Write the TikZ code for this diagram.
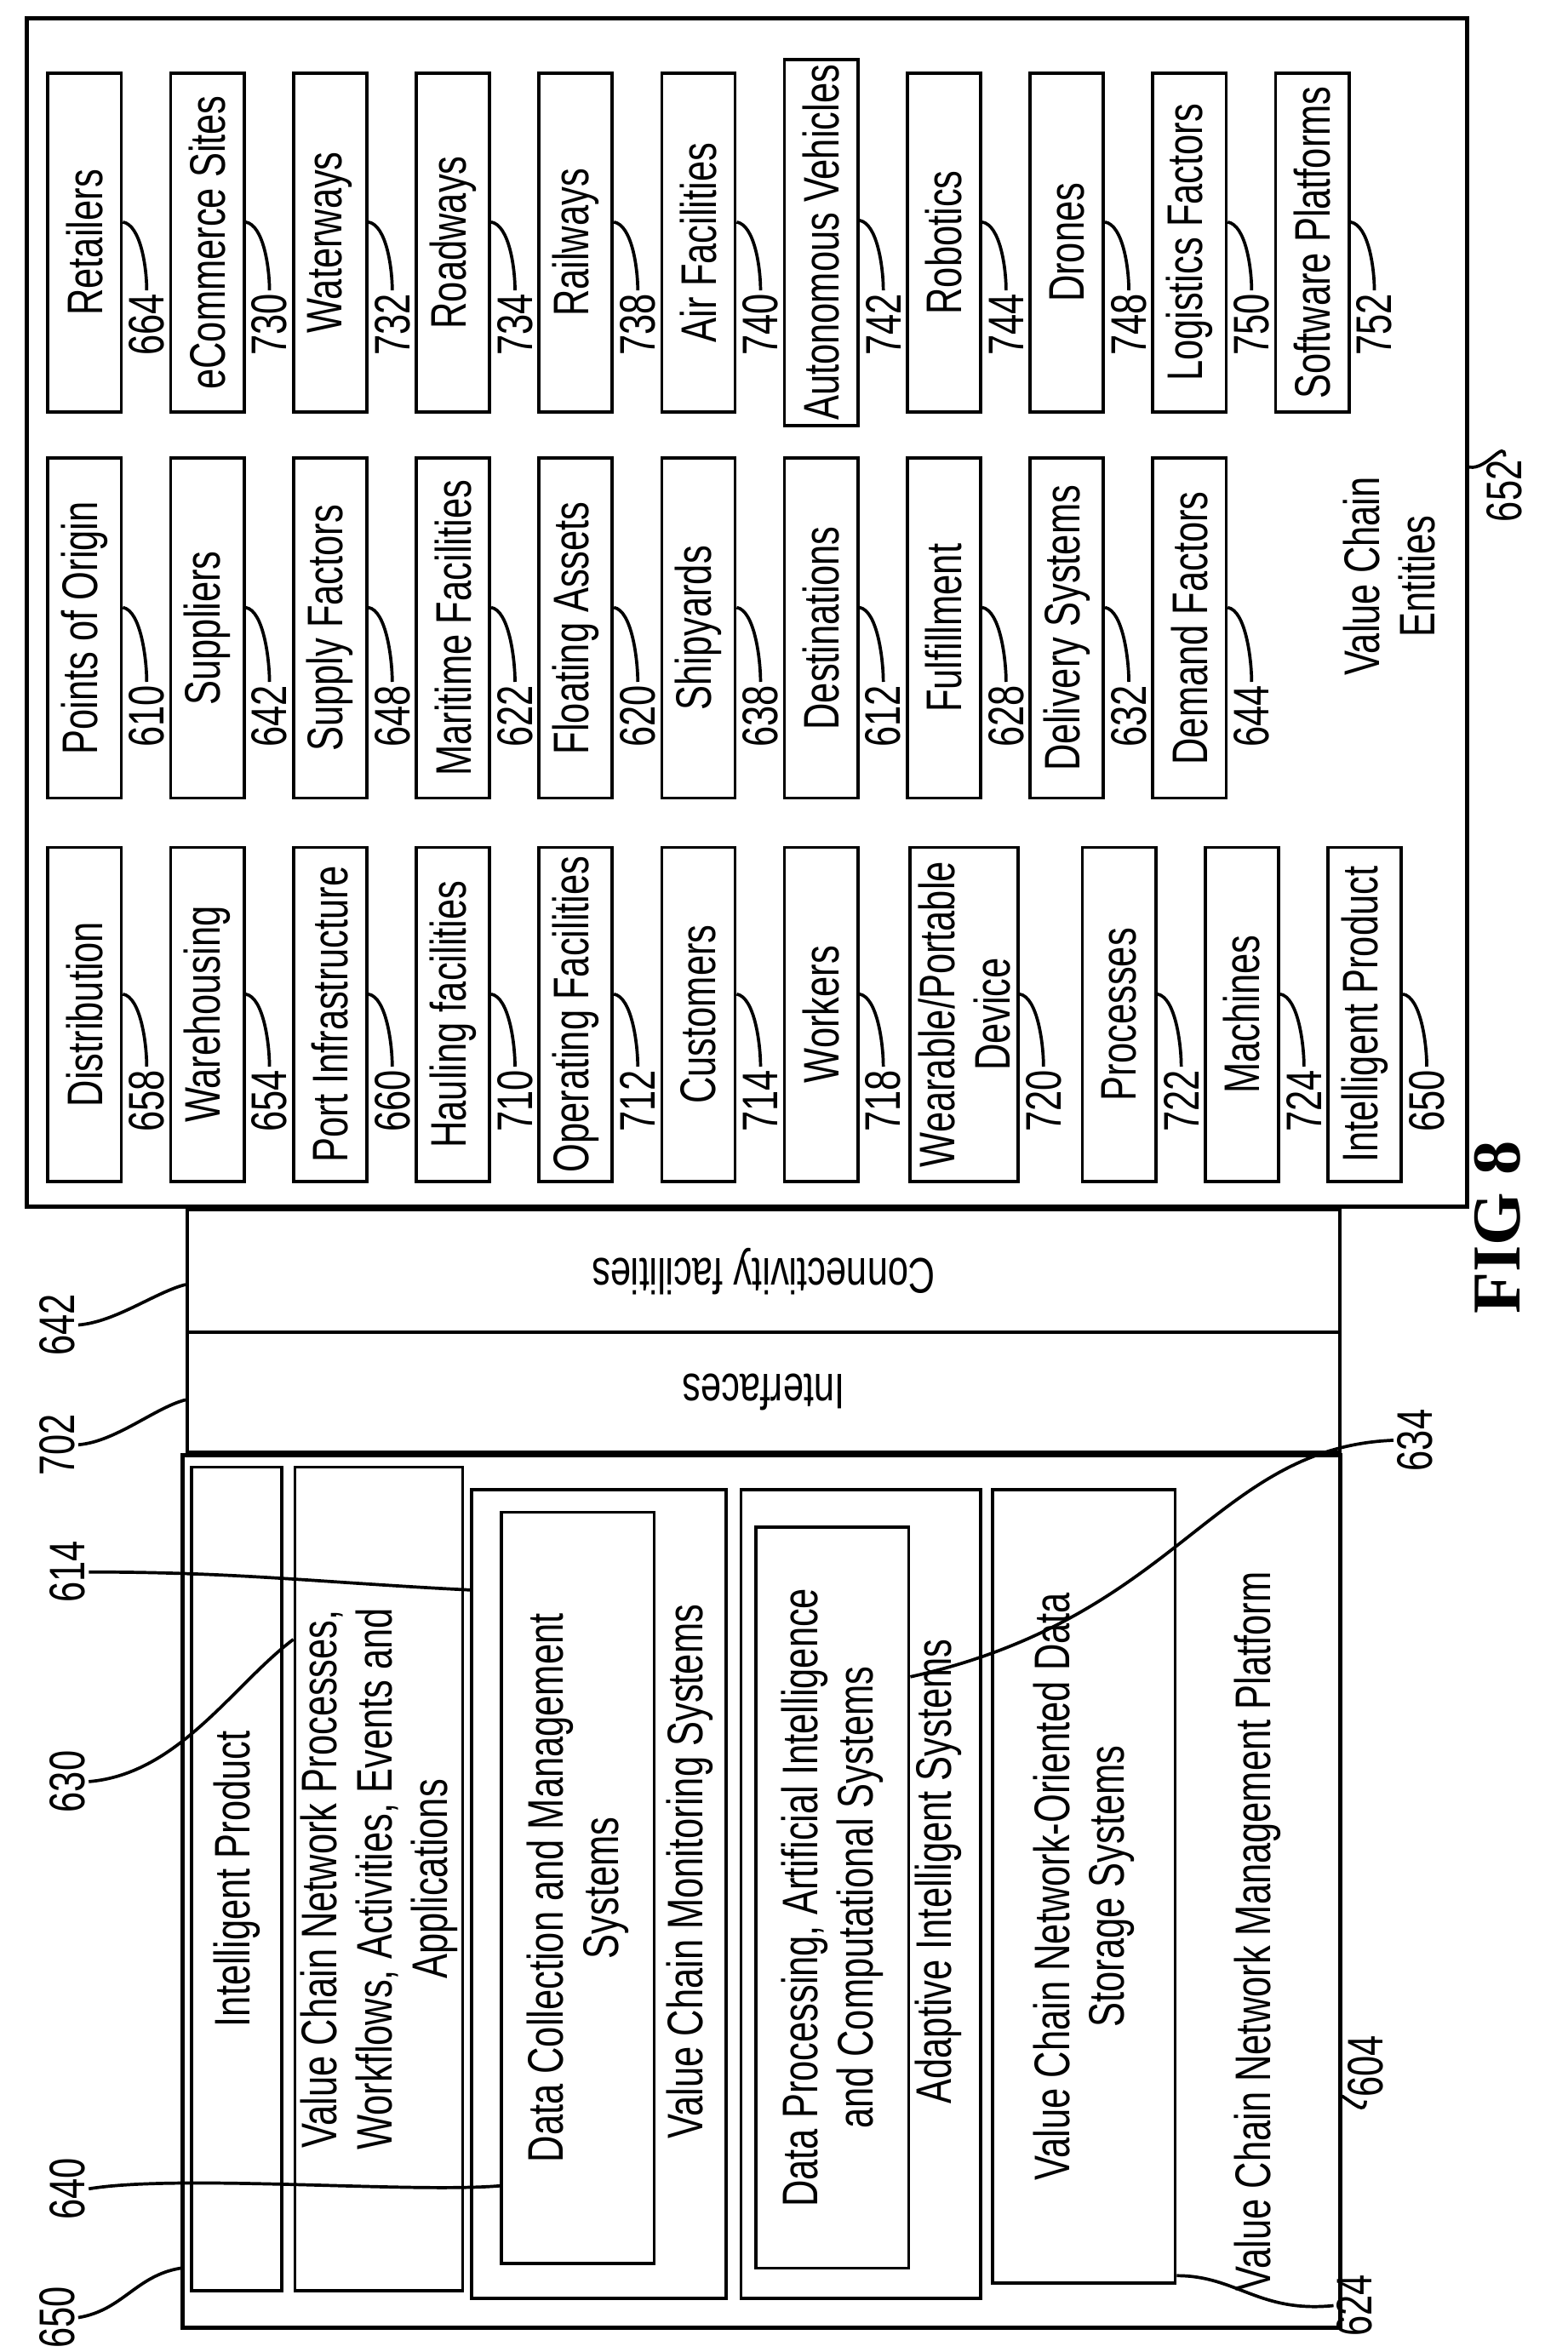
\documentclass[tikz,border=0pt]{standalone}
\usepackage{fontspec}
\setmainfont{Liberation Sans}[FakeStretch=0.74]
\newfontfamily\figfont{Liberation Serif}
\usetikzlibrary{calc}
\begin{document}
\begin{tikzpicture}[x=0.1mm,y=-0.1mm,
  box/.style={draw,line width=0.6pt,rotate=90,inner sep=1pt,align=center,
    font=\fontsize{9.5}{10.5}\selectfont},
  num/.style={rotate=90,inner sep=0.5pt,font=\fontsize{9.5}{10}\selectfont},
  txt/.style={rotate=90,align=center,font=\fontsize{9.5}{10.5}\selectfont},
  lead/.style={line width=0.6pt}]
\useasboundingbox (0,0) rectangle (1047,1571);

% value chain entities
\node[draw,line width=0.8pt,minimum width=96.2mm,minimum height=79.4mm] (ent) at (499,409) {};
\foreach \name/\lab [count=\i from 0] in {Retailers/664,eCommerce Sites/730,Waterways/732,Roadways/734,
    Railways/738,Air Facilities/740,Autonomous Vehicles/742,Robotics/744,Drones/748,
    Logistics Factors/750,Software Platforms/752}{
  \node[box,minimum width=22.6mm,minimum height=4.9mm] (t\i) at (56.5+82*\i,162) {\name};
  \node[num] (tl\i) at (98+82*\i,217) {\lab};
  \draw[lead] ($(t\i.south east)!0.44!(t\i.south west)$) .. controls +(12,2) and +(0,-15) .. (tl\i.east);
}
\foreach \name/\lab [count=\i from 0] in {Points of Origin/610,Suppliers/642,Supply Factors/648,
    Maritime Facilities/622,Floating Assets/620,Shipyards/638,Destinations/612,Fulfillment/628,
    Delivery Systems/632,Demand Factors/644}{
  \node[box,minimum width=22.7mm,minimum height=4.9mm] (m\i) at (56.5+82*\i,419.5) {\name};
  \node[num] (ml\i) at (98+82*\i,478.5) {\lab};
  \draw[lead] ($(m\i.south east)!0.44!(m\i.south west)$) .. controls +(12,2) and +(0,-15) .. (ml\i.east);
}
\foreach \name/\lab/\cx/\w [count=\i from 0] in {Distribution/658/56.5/4.9,Warehousing/654/138.5/4.9,
    Port Infrastructure/660/220.5/4.9,Hauling facilities/710/302.5/4.9,Operating Facilities/712/384.5/4.9,
    Customers/714/466.5/4.9,Workers/718/548.5/4.9,{Wearable/Portable\\Device}/720/644/7.2,
    Processes/722/747.5/4.9,Machines/724/829.5/4.9,Intelligent Product/650/911.5/4.9}{
  \node[box,minimum width=22.3mm,minimum height=\w mm] (b\i) at (\cx,677.5) {\name};
  \node[num] (bl\i) at (\cx+5*\w+17,735.5) {\lab};
  \draw[lead] ($(b\i.south east)!0.44!(b\i.south west)$) .. controls +(12,2) and +(0,-15) .. (bl\i.east);
}
\node[txt] (vce) at (928,385) {Value Chain\\Entities};
\node[num] (n652) at (1005,328) {652};
\draw[lead] (ent.east |- 0,312) .. controls +(12,2) and +(0,-12) .. (n652.east);

% interfaces and connectivity
\node[draw,line width=0.6pt,rotate=180,minimum width=77mm,minimum height=8.2mm,
  font=\fontsize{9.5}{10.5}\selectfont] (conn) at (510,849) {Connectivity facilities};
\node[draw,line width=0.6pt,rotate=180,minimum width=77mm,minimum height=8mm,
  font=\fontsize{9.5}{10.5}\selectfont] (intf) at (510,930) {Interfaces};
\node[num] (n642) at (38,885) {642};
\node[num] (n702) at (38,965) {702};
\draw[lead] (n642.south) .. controls +(25,-2) and +(-20,5) .. (conn.east |- 0,858);
\draw[lead] (n702.south) .. controls +(25,-2) and +(-20,5) .. (intf.east |- 0,935);
\node[rotate=90,font=\figfont\bfseries\fontsize{13}{14}\selectfont] (fig) at (1000,820) {FIG 8};

% management platform
\node[draw,line width=0.8pt,minimum width=77.3mm,minimum height=58.3mm] (plat) at (508.5,1263.5) {};
\node[box,minimum width=55mm,minimum height=6mm] (ip) at (158,1255) {Intelligent Product};
\node[box,minimum width=55mm,minimum height=11mm] (proc) at (253,1255)
  {Value Chain Network Processes,\\Workflows, Activities, Events and\\Applications};
\node[box,minimum width=54mm,minimum height=17mm] (mon) at (400,1265) {};
\node[box,minimum width=50.2mm,minimum height=10.2mm] (dc) at (386,1261) {Data Collection and Management\\Systems};
\node[txt] (mont) at (461,1250) {Value Chain Monitoring Systems};
\node[box,minimum width=54mm,minimum height=16mm] (ais) at (575,1265) {};
\node[box,minimum width=49.5mm,minimum height=10.2mm] (dp) at (556,1267.5)
  {Data Processing, Artificial Intelligence\\and Computational Systems};
\node[txt] (aist) at (627,1250) {Adaptive Intelligent Systems};
\node[box,minimum width=53mm,minimum height=12.2mm] (stor) at (724,1260)
  {Value Chain Network-Oriented Data\\Storage Systems};
\node[txt] (mgmt) at (840,1290) {Value Chain Network Management Platform};

% callouts
\node[num] (n650) at (38,1548) {650};
\node[num] (n640) at (45,1462) {640};
\node[num] (n630) at (45,1190) {630};
\node[num] (n614) at (45,1050) {614};
\node[num] (n634) at (945,962) {634};
\node[num] (n604) at (912,1380) {604};
\node[num] (n624) at (905,1540) {624};
\draw[lead] (n650.south) .. controls +(30,-5) and +(-30,5) .. (plat.west |- 0,1515);
\draw[lead] (n640.south) .. controls +(60,-10) and +(-60,5) .. (dc.north |- 0,1460);
\draw[lead] (n630.south) .. controls +(60,-5) and +(-40,30) .. (proc.north |- 0,1095);
\draw[lead] (n614.south) .. controls +(100,0) and +(-100,-5) .. (mon.north |- 0,1062);
\draw[lead] (n634.north) .. controls +(-120,5) and +(180,-40) .. (dp.south |- 0,1120);
\draw[lead] (plat.east |- 0,1400) .. controls +(8,5) and +(0,10) .. (n604.west);
\draw[lead] (stor.south |- 0,1520) .. controls +(40,0) and +(-50,5) .. (n624.north);
\end{tikzpicture}
\end{document}
